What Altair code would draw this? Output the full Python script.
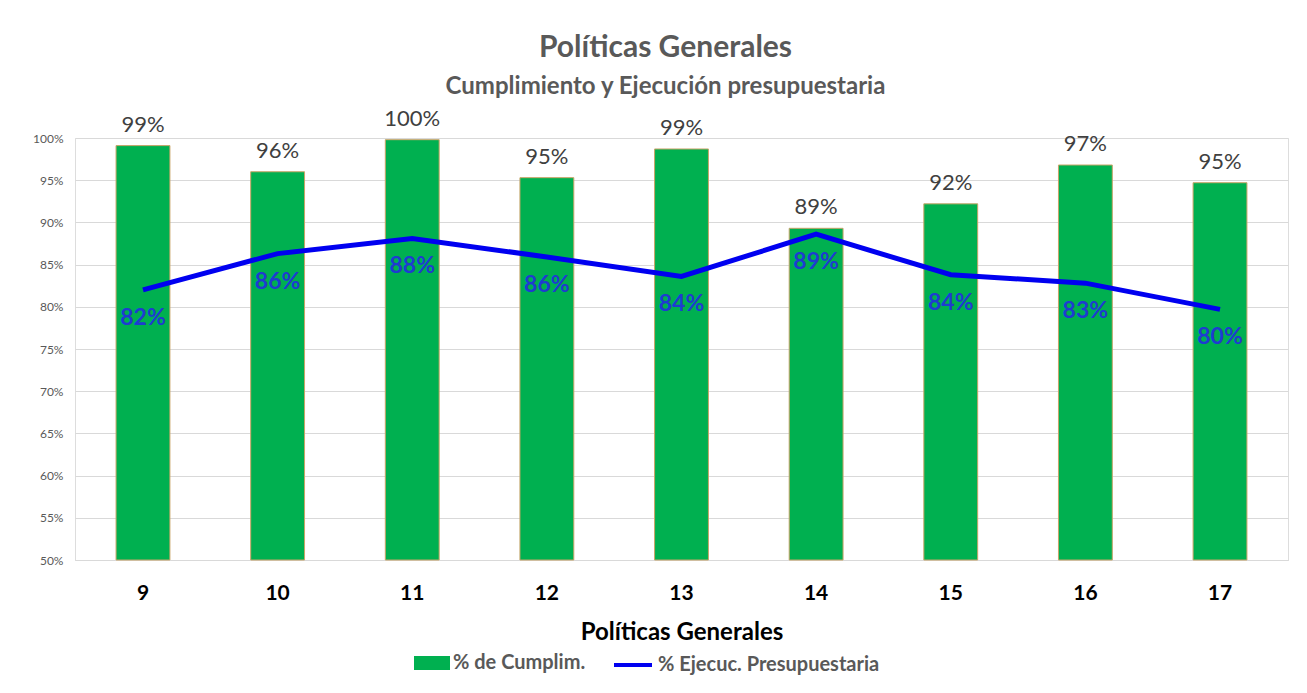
import altair as alt
import pandas as pd

politicas = ["9", "10", "11", "12", "13", "14", "15", "16", "17"]
cumplim = [0.991, 0.960, 0.998, 0.953, 0.987, 0.893, 0.922, 0.968, 0.947]
ejecuc = [0.820, 0.863, 0.881, 0.859, 0.836, 0.886, 0.838, 0.828, 0.797]
serie_bar = "% de Cumplim."
serie_line = "% Ejecuc. Presupuestaria"
y_ticks = [0.50, 0.55, 0.60, 0.65, 0.70, 0.75, 0.80, 0.85, 0.90, 0.95, 1.00]

df = pd.DataFrame({
    "pol": politicas,
    "cumplim": cumplim,
    "ejecuc": ejecuc,
    "s1": serie_bar,
    "s2": serie_line,
})

FONT = "Lato"
GREEN = "#00B050"
BLUE = "#0000F0"
LBLUE = "#1F3BD1"

x = alt.X(
    "pol:N",
    sort=politicas,
    scale=alt.Scale(paddingInner=0.6, paddingOuter=0.305),
    axis=alt.Axis(
        title="Políticas Generales", labelAngle=0, labelFontSize=21,
        labelFontWeight="bold", labelColor="#000000", labelPadding=22,
        titleFontSize=24, titleFontWeight="bold", titleColor="#000000",
        titlePadding=17, ticks=False, domainColor="#D9D9D9", labelFont=FONT,
        titleFont=FONT,
    ),
)
yscale = alt.Scale(domain=[0.5, 1.0])
yaxis = alt.Axis(
    title=None, format=".0%", values=y_ticks, labelFontSize=12,
    labelColor="#595959", gridColor="#D9D9D9", domain=False, ticks=False,
    labelPadding=12, labelFont=FONT,
)

bars = alt.Chart(df).mark_bar(stroke="#C8A468", strokeWidth=1).encode(
    x=x,
    y=alt.Y("cumplim:Q", scale=yscale, axis=yaxis),
    y2=alt.datum(0.5),
    fill=alt.Fill(
        "s1:N",
        scale=alt.Scale(range=[GREEN]),
        legend=alt.Legend(
            title=None, orient="none", legendX=339, legendY=507, padding=0,
            symbolType="M-1,-0.39H1V0.39H-1Z", symbolSize=1296,
            symbolStrokeWidth=0, labelFontSize=20, labelFontWeight="bold",
            labelColor="#595959", labelOffset=3, labelFont=FONT,
            labelLimit=500,
        ),
    ),
)

bar_labels = alt.Chart(df).mark_text(
    baseline="alphabetic", dy=-14, fontSize=22, color="#404040", font=FONT
).encode(
    x=x, y=alt.Y("cumplim:Q", scale=yscale),
    text=alt.Text("cumplim:Q", format=".0%"),
)

line = alt.Chart(df).mark_line(strokeWidth=5).encode(
    x=x,
    y=alt.Y("ejecuc:Q", scale=yscale),
    stroke=alt.Stroke(
        "s2:N",
        scale=alt.Scale(range=[BLUE]),
        legend=alt.Legend(
            title=None, orient="none", legendX=537, legendY=506, padding=0,
            symbolType="M-1,0H1", symbolSize=1444, symbolStrokeWidth=4,
            labelFontSize=20, labelFontWeight="bold", labelColor="#595959",
            labelOffset=4, labelFont=FONT, labelLimit=500,
        ),
    ),
)

line_labels = alt.Chart(df).mark_text(
    baseline="middle", dy=28, fontSize=23, fontWeight="bold", color=LBLUE,
    font=FONT,
).encode(
    x=x, y=alt.Y("ejecuc:Q", scale=yscale),
    text=alt.Text("ejecuc:Q", format=".0%"),
)

chart = alt.layer(bars, bar_labels, line, line_labels).resolve_scale(
    fill="independent", stroke="independent"
).properties(
    width=1213,
    height=422,
    autosize=alt.AutoSizeParams(type="none"),
    padding={"left": 67, "top": 130, "right": 11, "bottom": 125},
    title=alt.Title(
        "Políticas Generales",
        subtitle="Cumplimiento y Ejecución presupuestaria",
        fontSize=30, color="#595959", font=FONT, fontWeight="bold",
        subtitleFontSize=24, subtitleColor="#595959", subtitleFont=FONT,
        subtitleFontWeight="bold", subtitlePadding=12,
        anchor="middle", frame="group", dx=-16, offset=9,
    ),
).configure_view(stroke=None).configure(background="white")

chart.save("out.html", embed_options={"renderer": "svg", "actions": False})
